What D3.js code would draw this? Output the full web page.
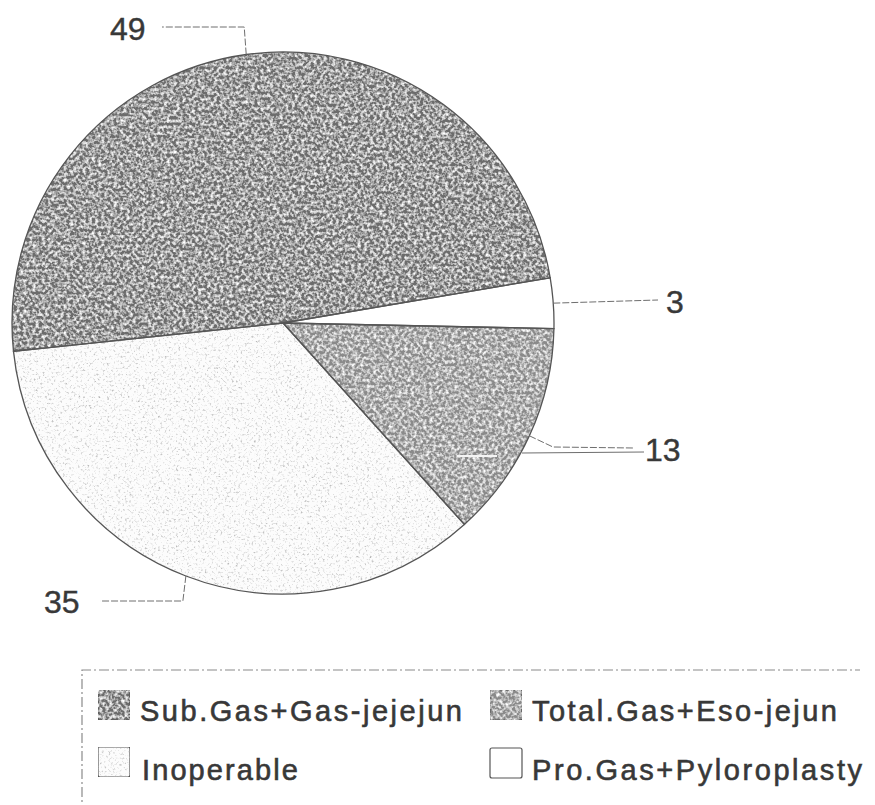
<!DOCTYPE html>
<html>
<head>
<meta charset="utf-8">
<script src="https://cdn.jsdelivr.net/npm/d3@7/dist/d3.min.js"></script>
<style>
  html, body { margin: 0; padding: 0; background: #ffffff; }
  svg { display: block; }
  text { font-family: "Liberation Sans", Arial, Helvetica, sans-serif; fill: #383838; }
</style>
</head>
<body>
<div id="chart"></div>
<script>
// ---- data ----
const categories = ["Sub.Gas+Gas-jejejun", "Pro.Gas+Pyloroplasty", "Total.Gas+Eso-jejun", "Inoperable"];
const values = [49, 3, 13, 35];
const legendOrder = ["Sub.Gas+Gas-jejejun", "Total.Gas+Eso-jejun", "Inoperable", "Pro.Gas+Pyloroplasty"];

// ---- styles / layout ----
const fills = { "Sub.Gas+Gas-jejejun": "#6c6c6c", "Pro.Gas+Pyloroplasty": "#ffffff", "Total.Gas+Eso-jejun": "#8a8a8a", "Inoperable": "#fcfcfc" };
const grains = { "Sub.Gas+Gas-jejejun": "url(#grainLight)", "Pro.Gas+Pyloroplasty": null, "Total.Gas+Eso-jejun": "url(#grainLight)", "Inoperable": "url(#grainDark)" };

const W = 875, H = 805;
const cx = 283, cy = 323, R = 271;
const startDeg = -96;

const svg = d3.select("#chart").append("svg").attr("width", W).attr("height", H);
const defs = svg.append("defs");

function grainFilter(id, color, slope, intercept, freq) {
  const f = defs.append("filter").attr("id", id)
    .attr("x", "0").attr("y", "0").attr("width", "1").attr("height", "1");
  f.append("feTurbulence").attr("type", "fractalNoise").attr("baseFrequency", freq)
    .attr("numOctaves", 2).attr("seed", 7).attr("result", "noise");
  f.append("feColorMatrix").attr("in", "noise").attr("type", "matrix")
    .attr("values", `0 0 0 0 ${color} 0 0 0 0 ${color} 0 0 0 0 ${color} ${slope} 0 0 0 ${intercept}`)
    .attr("result", "spots");
  f.append("feComposite").attr("in", "spots").attr("in2", "SourceGraphic").attr("operator", "in").attr("result", "masked");
  const m = f.append("feMerge");
  m.append("feMergeNode").attr("in", "SourceGraphic");
  m.append("feMergeNode").attr("in", "masked");
}
grainFilter("grainLight", 1, 2.4, -0.95, 0.32);
grainFilter("grainDark", 0.45, 3.0, -1.65, 0.45);

const pie = d3.pie().sort(null).value(d => d.value)
  .startAngle(startDeg * Math.PI / 180)
  .endAngle(startDeg * Math.PI / 180 + 2 * Math.PI);
const data = categories.map((c, i) => ({ name: c, value: values[i] }));
const arcs = pie(data);
const arc = d3.arc().innerRadius(0).outerRadius(R);

const g = svg.append("g").attr("transform", `translate(${cx},${cy})`);
g.selectAll("path.slice").data(arcs).enter().append("path")
  .attr("class", "slice")
  .attr("d", arc)
  .attr("fill", d => fills[d.data.name])
  .attr("filter", d => grains[d.data.name])
  .attr("stroke", "none");

// slice boundaries and outline
g.selectAll("path.edge").data(arcs).enter().append("path")
  .attr("class", "edge")
  .attr("d", arc)
  .attr("fill", "none")
  .attr("stroke", "#555555")
  .attr("stroke-width", 1.3);

// ---- leader lines & labels ----
function edgePoint(d) {
  const a = (d.startAngle + d.endAngle) / 2;
  return [cx + R * Math.sin(a), cy - R * Math.cos(a)];
}
const labelLayout = {
  "Sub.Gas+Gas-jejejun": { path: p => [p, [p[0] - 2, 27], [162, 27]], tx: 110, ty: 40 },
  "Pro.Gas+Pyloroplasty": { path: p => [p, [658, 300]], tx: 666, ty: 313 },
  "Total.Gas+Eso-jejun": { path: p => [p, [553, 447], [634, 448]], tx: 645, ty: 461 },
  "Inoperable": { path: p => [p, [p[0] - 3, 601], [100, 601]], tx: 44, ty: 613 }
};
const line = d3.line();
arcs.forEach(d => {
  const L = labelLayout[d.data.name];
  const p = edgePoint(d);
  svg.append("path").attr("d", line(L.path(p)))
    .attr("fill", "none").attr("stroke", "#6e6e6e").attr("stroke-width", 1)
    .attr("stroke-dasharray", "7,2");
  svg.append("text").attr("x", L.tx).attr("y", L.ty)
    .attr("font-size", 32)
    .attr("stroke", "#383838").attr("stroke-width", 0.4)
    .text(d.value);
});
svg.append("line").attr("x1", 457).attr("y1", 456).attr("x2", 497).attr("y2", 456)
  .attr("stroke", "#f4f4f4").attr("stroke-width", 2);
svg.append("line").attr("x1", 522).attr("y1", 453).attr("x2", 644).attr("y2", 452)
  .attr("stroke", "#6e6e6e").attr("stroke-width", 1);

// ---- legend ----
const lg = svg.append("g");
lg.append("path").attr("d", "M82,815 L82,670 L860,670")
  .attr("fill", "none").attr("stroke", "#8a8a8a").attr("stroke-width", 1.2)
  .attr("stroke-dasharray", "10,3,2,3");

const legendPos = [
  { sx: 98, sy: 690, tx: 140, ty: 721, w: 322 },
  { sx: 490, sy: 690, tx: 532, ty: 721, w: 305 },
  { sx: 98, sy: 747, tx: 142, ty: 780, w: 156 },
  { sx: 490, sy: 748, tx: 532, ty: 780, w: 330 }
];
legendOrder.forEach((name, i) => {
  const P = legendPos[i];
  lg.append("rect").attr("x", P.sx).attr("y", P.sy).attr("width", 32).attr("height", 30)
    .attr("rx", 2)
    .attr("fill", fills[name]).attr("filter", grains[name])
    .attr("stroke", "#555").attr("stroke-width", 1.2);
  lg.append("text").attr("x", P.tx).attr("y", P.ty)
    .attr("font-size", 29)
    .attr("stroke", "#383838").attr("stroke-width", 0.6)
    .attr("textLength", P.w).attr("lengthAdjust", "spacing")
    .text(name);
});
</script>
</body>
</html>
